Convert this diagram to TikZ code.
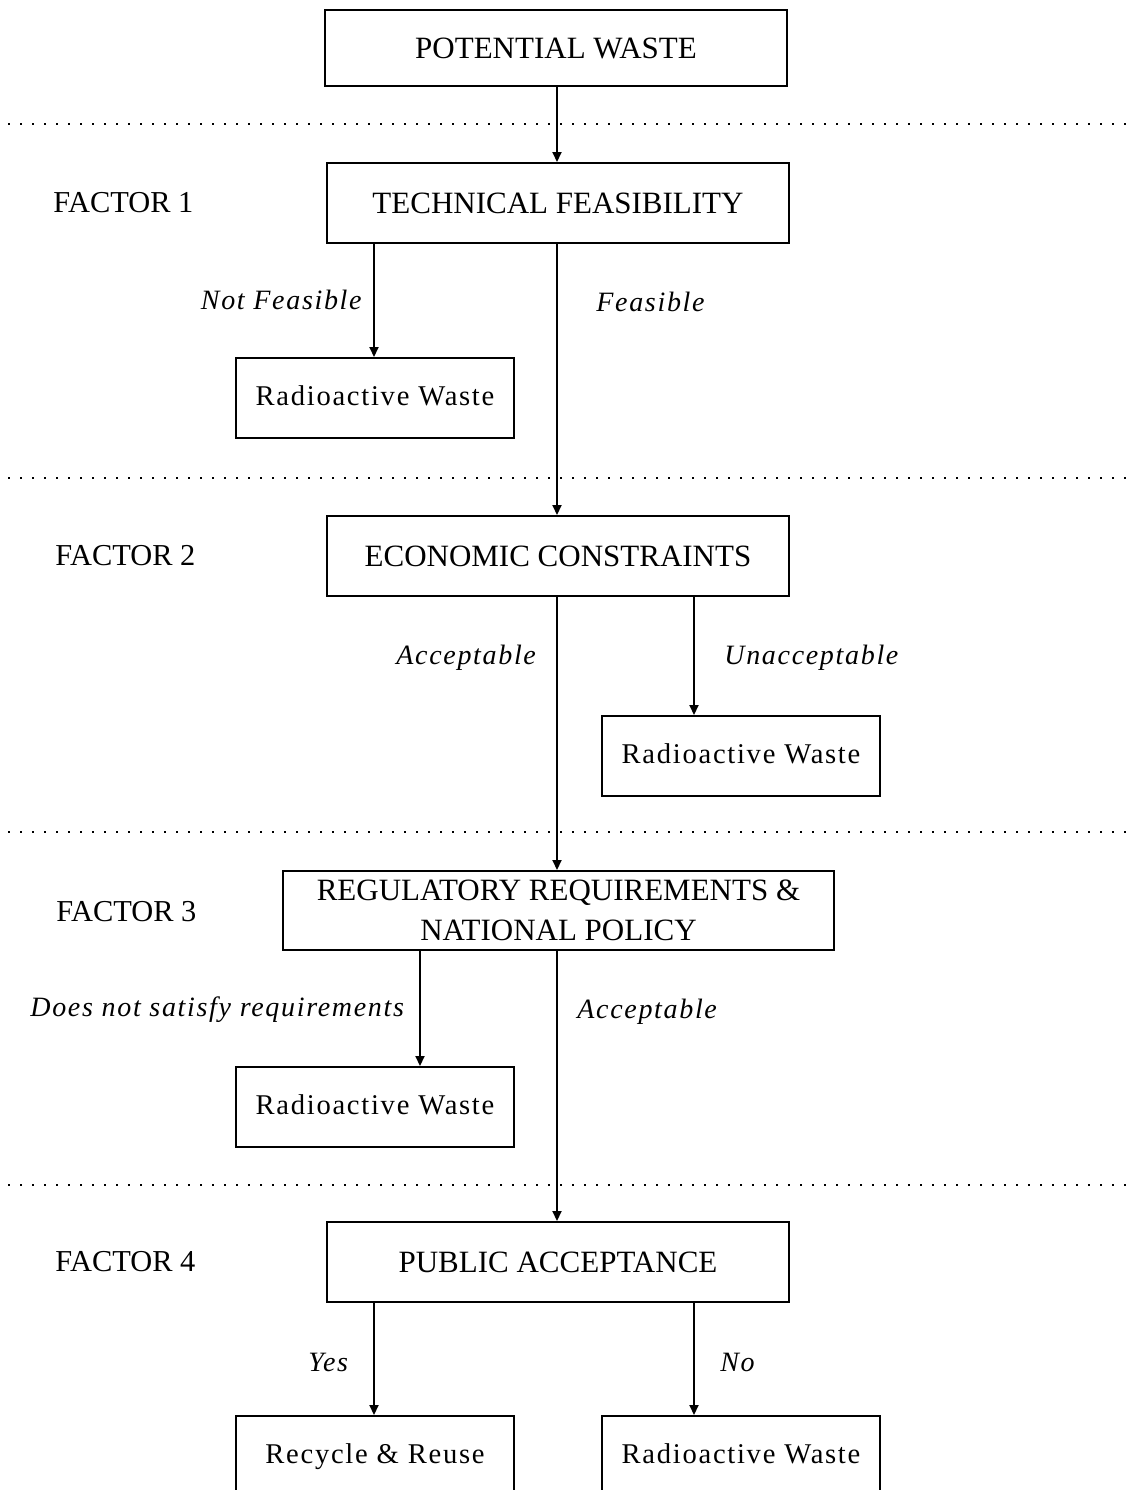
\documentclass[tikz,border=0pt]{standalone}
\usepackage{fontspec}
\setmainfont{Liberation Serif}
\newfontfamily\widefont[LetterSpace=6]{Liberation Serif}
\usetikzlibrary{arrows.meta}
\tikzset{
  bigbox/.style={draw, line width=1pt, minimum width=231pt, minimum height=40pt,
    inner sep=0pt, font=\fontsize{15.5}{18}\selectfont},
  smallbox/.style={draw, line width=1pt, minimum width=139pt, minimum height=40pt,
    inner sep=0pt, text height=10pt, text depth=3pt,
    font=\widefont\fontsize{14.3}{17}\selectfont},
  factor/.style={anchor=west, inner sep=0pt, font=\fontsize{15.2}{18}\selectfont},
  branch/.style={inner sep=0pt, font=\widefont\itshape\fontsize{14}{17}\selectfont},
  arr/.style={line width=1pt, -{Triangle[length=5pt,width=4.5pt]}},
  sep/.style={line width=0.8pt, dash pattern=on 0.8pt off 5.2pt}
}
\begin{document}
\begin{tikzpicture}[x=0.5pt,y=-0.5pt]
\useasboundingbox (0,0) rectangle (1128,1490);
\clip (0,0) rectangle (1128,1490);

% horizontal separators between the four factors
\draw[sep] (8,124) -- (1128,124);
\draw[sep] (8,478) -- (1128,478);
\draw[sep] (8,832) -- (1128,832);
\draw[sep] (8,1185) -- (1128,1185);

% factor captions
\node[factor] (f1) at (53,203) {FACTOR 1};
\node[factor] (f2) at (55,556) {FACTOR 2};
\node[factor] (f3) at (56,912) {FACTOR 3};
\node[factor] (f4) at (55,1262) {FACTOR 4};

% main chain
\node[bigbox, minimum height=38pt] (pw) at (556,48) {POTENTIAL WASTE};
\node[bigbox] (tf) at (558,203) {TECHNICAL FEASIBILITY};
\node[bigbox] (ec) at (558,556) {ECONOMIC CONSTRAINTS};
\node[bigbox, minimum width=275.5pt, minimum height=39.5pt, align=center]
  (reg) at (558.5,910.5) {REGULATORY REQUIREMENTS \&\\[2pt] NATIONAL POLICY};
\node[bigbox] (pa) at (558,1262) {PUBLIC ACCEPTANCE};

% outcome boxes
\node[smallbox] (rw1) at (375,398) {Radioactive Waste};
\node[smallbox] (rw2) at (741,756) {Radioactive Waste};
\node[smallbox] (rw3) at (375,1107) {Radioactive Waste};
\node[smallbox] (rr) at (375,1456) {Recycle \& Reuse};
\node[smallbox] (rw4) at (741,1456) {Radioactive Waste};

% branch columns
\coordinate (colc) at (557,0);
\coordinate (colr) at (694,0);
\coordinate (colm) at (420,0);
\coordinate (coll) at (374,0);

% connectors
\draw[arr] (pw.south -| colc) -- (tf.north -| colc);
\draw[arr] (tf.south -| coll) -- (rw1.north -| coll);
\draw[arr] (tf.south -| colc) -- (ec.north -| colc);
\draw[arr] (ec.south -| colc) -- (reg.north -| colc);
\draw[arr] (ec.south -| colr) -- (rw2.north -| colr);
\draw[arr] (reg.south -| colm) -- (rw3.north -| colm);
\draw[arr] (reg.south -| colc) -- (pa.north -| colc);
\draw[arr] (pa.south -| coll) -- (rr.north -| coll);
\draw[arr] (pa.south -| colr) -- (rw4.north -| colr);

% branch labels
\node[branch, anchor=east] (l1) at (362,300) {Not Feasible};
\node[branch, anchor=west] (l2) at (596,302) {Feasible};
\node[branch, anchor=west] (l3) at (396,658) {Acceptable};
\node[branch, anchor=west] (l4) at (724,658) {Unacceptable};
\node[branch, anchor=west] (l5) at (30,1010) {Does not satisfy requirements};
\node[branch, anchor=west] (l6) at (577,1012) {Acceptable};
\node[branch, anchor=west] (l7) at (308,1362) {Yes};
\node[branch, anchor=west] (l8) at (720,1362) {No};
\end{tikzpicture}
\end{document}
